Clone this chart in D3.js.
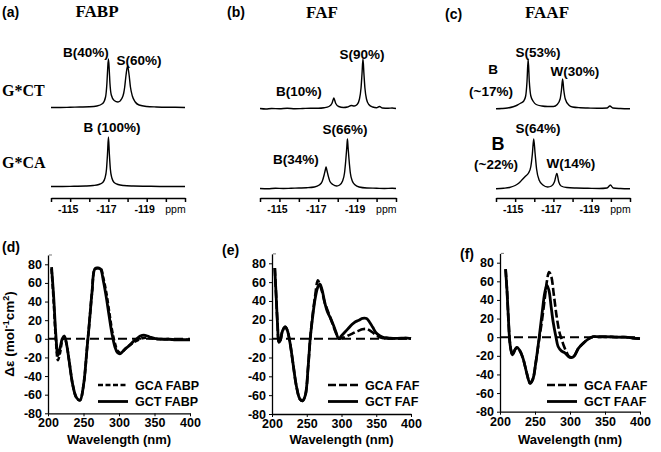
<!DOCTYPE html>
<html><head><meta charset="utf-8">
<script src="https://cdn.jsdelivr.net/npm/d3@7"></script>
<style>
body{margin:0;background:#fff}
text{font-family:"Liberation Sans",Arial,sans-serif;fill:#000}
.serif{font-family:"Liberation Serif","Times New Roman",serif;font-weight:bold}
</style>
</head><body><svg id="c" width="661" height="452"></svg>
<script>
// ---------------- DATA ----------------
const nmrTickLabels = [-115, -117, -119];
const nmrTickMarks = [-114, -115, -116, -117, -118, -119, -120, -121];
const cdTicksX = [200, 250, 300, 350, 400];
const cdTicksY = [-80, -60, -40, -20, 0, 20, 40, 60, 80];

// 19F NMR spectra [ppm, relative intensity]
const fabpCT = [[-114,1],[-114.5,1],[-115,1.5],[-115.5,2],[-116,2.5],[-116.4,4],[-116.7,9],[-116.85,22],[-116.92,49],[-116.96,78],[-117,98],[-117.04,78],[-117.08,49],[-117.15,26],[-117.3,15],[-117.5,12],[-117.7,19],[-117.8,30],[-117.85,42],[-117.92,66],[-118,84],[-118.08,66],[-118.15,42],[-118.25,24],[-118.4,12],[-118.6,6],[-119,3],[-119.5,2],[-120,1.5],[-120.5,1.5],[-121,1]];
const fabpCA = [[-114,1],[-114.6,1],[-115.2,1.5],[-115.8,2],[-116.2,3],[-116.5,5],[-116.7,9],[-116.82,18],[-116.9,36],[-116.95,65],[-117,100],[-117.05,65],[-117.1,36],[-117.18,18],[-117.3,9],[-117.5,5],[-117.8,3],[-118.3,2],[-119,1.5],[-120,1],[-121,1]];
const fafCT = [[-114,1],[-114.3,0],[-114.6,1],[-115,0.5],[-115.4,1.5],[-115.8,0.5],[-116.2,1],[-116.6,1.5],[-117,1.5],[-117.3,2.5],[-117.55,5],[-117.7,11],[-117.76,18],[-117.8,22],[-117.84,18],[-117.9,11],[-118.05,5],[-118.3,3],[-118.5,4],[-118.7,7],[-118.85,6],[-119,9],[-119.12,20],[-119.2,42],[-119.25,70],[-119.3,100],[-119.35,70],[-119.4,42],[-119.48,20],[-119.6,9],[-119.8,4],[-120,2.5],[-120.15,5],[-120.3,2],[-120.6,1.5],[-120.8,2],[-121,1]];
const fafCA = [[-114,1],[-114.4,0.5],[-114.8,1.5],[-115.2,1],[-115.6,1.5],[-116,2],[-116.4,2.5],[-116.8,4],[-117.05,8],[-117.2,15],[-117.3,28],[-117.36,38],[-117.4,44],[-117.44,38],[-117.5,28],[-117.6,15],[-117.75,9],[-117.95,6],[-118.1,8],[-118.25,16],[-118.35,32],[-118.42,60],[-118.47,85],[-118.5,100],[-118.53,85],[-118.58,60],[-118.65,32],[-118.75,16],[-118.9,8],[-119.1,4],[-119.5,2],[-120,1.5],[-120.4,1],[-120.8,1.5],[-121,1]];
const faafCT = [[-114,0.5],[-114.3,1],[-114.6,2],[-114.9,4.5],[-115.1,7.5],[-115.3,12],[-115.45,16],[-115.55,26],[-115.62,55],[-115.68,100],[-115.74,55],[-115.82,26],[-115.95,15],[-116.1,9],[-116.4,6],[-116.7,5],[-117,5],[-117.2,9],[-117.35,20],[-117.42,38],[-117.48,60],[-117.54,38],[-117.62,20],[-117.8,8],[-118,4],[-118.4,2.5],[-118.8,2],[-119.3,1.5],[-119.8,2],[-119.95,6],[-120.1,2],[-120.5,1],[-121,0.5]];
const faafCA = [[-114,0.5],[-114.4,1.5],[-114.7,3],[-115,7],[-115.2,12],[-115.4,20],[-115.55,26],[-115.7,32],[-115.82,45],[-115.9,70],[-115.97,100],[-116.04,72],[-116.12,40],[-116.25,18],[-116.45,8],[-116.7,4],[-116.9,6],[-117.05,14],[-117.18,31],[-117.28,14],[-117.4,6],[-117.7,3],[-118.2,2],[-118.8,1.5],[-119.4,1],[-119.8,2],[-119.98,8],[-120.12,2],[-120.5,1],[-121,0.5]];

// CD spectra [wavelength nm, delta epsilon]
const gctFABP = [[205,77],[208,45],[211,5],[214,-18],[217,-10],[220,0],[223,3],[226,-5],[230,-25],[235,-50],[240,-63],[245,-66],[250,-50],[255,-10],[258,15],[262,50],[266,75],[270,76],[274,75],[278,62],[282,45],[286,25],[290,6],[294,-8],[298,-15],[302,-16],[306,-13],[310,-10],[315,-7],[320,-3],[325,0],[330,3],[335,4],[340,3],[345,1.5],[350,0.5],[355,0],[360,-0.5],[370,-0.5],[380,-1],[390,-1],[400,-1]];
const gcaFABP = [[205,75],[208,40],[211,0],[214,-23],[217,-15],[220,-2],[223,2],[226,-5],[230,-25],[235,-50],[240,-63],[245,-66],[250,-50],[255,-10],[258,15],[262,50],[266,75],[270,76],[274,76],[278,65],[282,50],[286,30],[290,10],[294,-4],[298,-13],[302,-15],[306,-13],[310,-10],[315,-7],[320,-4],[325,-2],[330,0],[335,1],[340,1],[345,0.5],[350,0],[355,-0.5],[360,-0.5],[370,-0.5],[380,-1],[390,-1],[400,-1]];
const gctFAF = [[204,75],[206,45],[208,15],[210,-4],[212,-2],[215,8],[219,12.5],[222,9],[226,-5],[230,-25],[235,-50],[240,-64],[244,-66],[248,-60],[252,-30],[255,0],[258,20],[262,42],[266,55],[269,58],[272,52],[276,38],[280,28],[284,22],[288,15],[292,7],[296,0],[300,3],[305,7],[310,11],[315,15],[320,18],[325,19.5],[330,21.5],[336,21.5],[340,18],[345,12],[350,6],[355,3],[360,1.5],[365,1],[370,0.5],[380,0.3],[390,0.5],[395,0.5],[400,0]];
const gcaFAF = [[204,75],[206,45],[208,15],[210,-4],[212,-2],[215,8],[219,12.5],[222,9],[226,-5],[230,-25],[235,-50],[240,-64],[244,-66],[248,-60],[252,-30],[255,0],[258,22],[262,45],[266,62],[269,57],[272,50],[276,38],[280,30],[284,22],[288,14],[292,6],[296,0],[300,0.5],[305,1.5],[310,3.5],[315,5],[320,7],[325,8.5],[330,10],[336,10.3],[340,9],[345,6.5],[350,3.5],[355,1.5],[360,0.5],[365,0.3],[370,0.3],[380,0.3],[390,0.5],[395,0.5],[400,0]];
const gctFAAF = [[208,73],[210,50],[212,20],[214,-5],[216,-15],[218,-19],[221,-14],[224,-11],[228,-14],[233,-23],[238,-38],[243,-49.5],[247,-45],[251,-28],[256,0],[260,25],[264,48],[267,56],[270,50],[273,33],[276,16],[280,0],[283,-10],[288,-15],[293,-17],[299,-21.5],[305,-21],[312,-12],[319,-6.5],[326,-2],[333,0.5],[340,0.5],[350,0.5],[360,0.3],[370,0],[380,0],[390,-1],[400,-1.5]];
const gcaFAAF = [[208,73],[210,50],[212,20],[214,-5],[216,-15],[218,-19],[221,-14],[224,-11],[228,-14],[233,-23],[238,-38],[243,-49.5],[247,-45],[251,-28],[256,-2],[260,18],[264,42],[267,60],[270,70],[273,66],[277,45],[281,22],[285,5],[288,-2],[291,-9],[295,-16],[299,-21],[305,-21],[312,-12],[319,-6.5],[326,-2],[333,0.5],[340,0.5],[350,0.5],[360,0.3],[370,0],[380,0],[390,-1],[400,-1.5]];

// ---------------- DRAW ----------------
const svg = d3.select('#c');

function txt(x, y, s, o = {}) {
  const t = svg.append('text').attr('x', x).attr('y', y).text(s)
    .attr('font-size', o.size || 13)
    .attr('font-weight', o.weight || 'normal')
    .attr('text-anchor', o.anchor || 'start');
  if (o.cls) t.attr('class', o.cls);
  return t;
}

const nmrPanels = [
  {x0: 51, x1: 185, top: 108, bot: 187, ct: fabpCT, ca: fabpCA, lab: '(a)', labX: 2, labY: 17, title: 'FABP', titleX: 97, titleY: 17,
   notes: [['B(40%)', 86, 57], ['S(60%)', 139, 65], ['B (100%)', 112, 132]]},
  {x0: 260, x1: 396, top: 109, bot: 189, ct: fafCT, ca: fafCA, lab: '(b)', labX: 227, labY: 17, title: 'FAF', titleX: 322, titleY: 18,
   notes: [['S(90%)', 362, 59], ['B(10%)', 299, 96], ['S(66%)', 345, 134], ['B(34%)', 296, 164]]},
  {x0: 496, x1: 630, top: 109, bot: 189, ct: faafCT, ca: faafCA, lab: '(c)', labX: 445, labY: 19, title: 'FAAF', titleX: 547, titleY: 18,
   notes: [['S(53%)', 538, 57], ['B', 493, 74], ['(~17%)', 491, 96], ['W(30%)', 575, 76], ['S(64%)', 538, 133], ['(~22%)', 496, 169], ['W(14%)', 571, 168]]}
];

nmrPanels.forEach(p => {
  const x = d3.scaleLinear().domain([-114, -121]).range([p.x0, p.x1]);
  [[p.ct, p.top], [p.ca, p.bot]].forEach(([data, base]) => {
    const y = d3.scaleLinear().domain([0, 100]).range([base, base - 50]);
    svg.append('path').datum(data)
      .attr('d', d3.line().x(d => x(d[0])).y(d => y(d[1])).curve(d3.curveMonotoneX))
      .attr('fill', 'none').attr('stroke', '#000').attr('stroke-width', 1.4);
  });
  const g = svg.append('g').attr('transform', 'translate(0,198)')
    .call(d3.axisBottom(x).tickValues(nmrTickMarks).tickSize(4).tickSizeOuter(0).tickFormat(''));
  g.select('.domain').attr('stroke-width', 1.5);
  g.selectAll('.tick line').attr('stroke-width', 1.5);
  nmrTickLabels.forEach(v => txt(x(v) - 2, 213, String(v), {size: 10.5, weight: 'bold', anchor: 'middle'}));
  txt(x(-120.5), 213, 'ppm', {size: 10.5, anchor: 'middle'});
  txt(p.labX, p.labY, p.lab, {size: 14, weight: 'bold'});
  txt(p.titleX, p.titleY, p.title, {size: 17, anchor: 'middle', cls: 'serif'});
  p.notes.forEach(n => txt(n[1], n[2], n[0], {size: 13.5, weight: 'bold', anchor: 'middle'}));
});
txt(498, 150, 'B', {size: 18, weight: 'bold', anchor: 'middle'});
txt(2, 96, 'G*CT', {size: 16, cls: 'serif'});
txt(2, 168, 'G*CA', {size: 16, cls: 'serif'});

const cdPanels = [
  {x0: 48, x1: 190, yb: 413.3, yt: 264.3, ct: gctFABP, ca: gcaFABP, lab: '(d)', labX: 2, labY: 252, name: 'FABP', lx: 98, dash: '5,2.5'},
  {x0: 272, x1: 411, yb: 414, yt: 263.3, ct: gctFAF, ca: gcaFAF, lab: '(e)', labX: 222, labY: 255, name: 'FAF', lx: 328, dash: '8,3'},
  {x0: 500, x1: 640, yb: 411.7, yt: 262.7, ct: gctFAAF, ca: gcaFAAF, lab: '(f)', labX: 460, labY: 259, name: 'FAAF', lx: 547, dash: '8,3'}
];

cdPanels.forEach(p => {
  const k = (p.yb - p.yt) / 160;
  const x = d3.scaleLinear().domain([200, 400]).range([p.x0, p.x1]);
  const y = d3.scaleLinear().domain([-80, 90]).range([p.yb, p.yb - 170 * k]);
  // zero reference
  svg.append('line').attr('x1', x(200)).attr('x2', x(400)).attr('y1', y(0)).attr('y2', y(0))
    .attr('stroke', '#000').attr('stroke-width', 2).attr('stroke-dasharray', '9,5');
  const line = d3.line().x(d => x(d[0])).y(d => y(d[1])).curve(d3.curveCatmullRom.alpha(0.5));
  svg.append('path').datum(p.ca).attr('d', line).attr('fill', 'none').attr('stroke', '#000')
    .attr('stroke-width', 2.6).attr('stroke-dasharray', p.dash);
  svg.append('path').datum(p.ct).attr('d', line).attr('fill', 'none').attr('stroke', '#000')
    .attr('stroke-width', 2.8);
  const ga = svg.append('g').attr('transform', `translate(${p.x0},0)`)
    .call(d3.axisLeft(y).tickValues(cdTicksY).tickSize(3).tickSizeOuter(0).tickPadding(3).tickFormat(d => String(d)));
  const gb = svg.append('g').attr('transform', `translate(0,${p.yb})`)
    .call(d3.axisBottom(x).tickValues(cdTicksX).tickSize(3).tickSizeOuter(0).tickPadding(2).tickFormat(d => String(d)));
  [ga, gb].forEach(g => {
    g.select('.domain').attr('stroke-width', 1.3);
    g.selectAll('text').attr('font-size', 12.5).attr('font-weight', 'bold')
      .attr('font-family', '"Liberation Sans",Arial,sans-serif');
  });
  svg.append('line').attr('x1', p.x0 + 1).attr('x2', p.x0 + 4).attr('y1', y(90)).attr('y2', y(90))
    .attr('stroke', '#777').attr('stroke-width', 1);
  txt((p.x0 + p.x1) / 2, 444, 'Wavelength (nm)', {size: 13, weight: 'bold', anchor: 'middle'});
  txt(p.labX, p.labY, p.lab, {size: 14, weight: 'bold'});
  // legend
  svg.append('line').attr('x1', p.lx).attr('x2', p.lx + 30).attr('y1', 385).attr('y2', 385)
    .attr('stroke', '#000').attr('stroke-width', 2.6).attr('stroke-dasharray', p.dash);
  svg.append('line').attr('x1', p.lx).attr('x2', p.lx + 30).attr('y1', 401.5).attr('y2', 401.5)
    .attr('stroke', '#000').attr('stroke-width', 2.8);
  txt(p.lx + 37, 390, 'GCA ' + p.name, {size: 12.5, weight: 'bold'});
  txt(p.lx + 37, 406, 'GCT ' + p.name, {size: 12.5, weight: 'bold'});
});

// y-axis title for (d)
const yl = svg.append('text').attr('transform', 'translate(14,334) rotate(-90)')
  .attr('text-anchor', 'middle').attr('font-size', 13.5).attr('font-weight', 'bold');
yl.append('tspan').text('Δε (mol');
yl.append('tspan').text('-1').attr('font-size', 9).attr('dy', -5);
yl.append('tspan').text('cm').attr('dy', 5);
yl.append('tspan').text('2').attr('font-size', 9).attr('dy', -5);
yl.append('tspan').text(')').attr('dy', 5);
</script>
</body></html>
